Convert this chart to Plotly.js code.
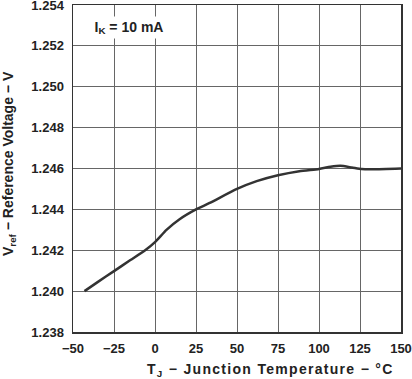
<!DOCTYPE html>
<html>
<head>
<meta charset="utf-8">
<script src="https://cdn.plot.ly/plotly-3.0.1.min.js"></script>
<style>html,body{margin:0;padding:0;background:#fff;}#chart{width:412px;height:379px;}</style>
</head>
<body>
<div id="chart"></div>
<script>
const temperature = [-43, -35, -25, -15, -6, 0, 7, 15, 25, 33, 50, 62, 75, 88, 100, 107, 113, 120, 126, 133, 150];
const vref = [1.2400, 1.24044, 1.24098, 1.24152, 1.2420, 1.2424, 1.2430, 1.24352, 1.2440, 1.2443, 1.2450, 1.24538, 1.24567, 1.24587, 1.24598, 1.24608, 1.24613, 1.24605, 1.24597, 1.24596, 1.2460];
const xTicks = [-50, -25, 0, 25, 50, 75, 100, 125, 150];
const yTicks = [1.238, 1.240, 1.242, 1.244, 1.246, 1.248, 1.250, 1.252, 1.254];
const xTickText = ['\u221250', '\u221225', '0', '25', '50', '75', '100', '125', '150'];
const yTickText = yTicks.map(v => v.toFixed(3));
const noteText = 'I<sub>K</sub> = 10 mA';
const xTitle = 'T<sub>J</sub> \u2212 Junction Temperature \u2212 \u00b0C';
const yTitle = 'V<sub>ref</sub> \u2212 Reference Voltage \u2212 V';

const fam = 'Liberation Sans, Arial, sans-serif';
const tickFont = {family: fam, size: 13, color: '#222', weight: 'bold'};
const titleFont = {family: fam, size: 14, color: '#222', weight: 'bold'};

const W = 412, H = 379, M = {l: 73, r: 11, t: 5, b: 47};
const pw = W - M.l - M.r, ph = H - M.t - M.b;
const px = x => (x - M.l) / pw;
const py = y => 1 - (y - M.t) / ph;

Plotly.newPlot('chart', [{
  x: temperature, y: vref, mode: 'lines', type: 'scatter',
  line: {color: '#333', width: 2.5, shape: 'spline', smoothing: 0.6},
  hoverinfo: 'skip'
}], {
  width: W, height: H,
  margin: M,
  paper_bgcolor: '#fff', plot_bgcolor: '#fff',
  font: tickFont,
  showlegend: false,
  xaxis: {
    range: [-50, 150], tickvals: xTicks, ticktext: xTickText,
    showgrid: true, gridcolor: '#666', gridwidth: 1,
    showline: true, linecolor: '#333', linewidth: 1.5, mirror: true,
    zeroline: false, ticks: '', ticklabelstandoff: 4, ticklabeloverflow: 'allow',
    tickfont: tickFont
  },
  yaxis: {
    range: [1.238, 1.254], tickvals: yTicks, ticktext: yTickText,
    showgrid: true, gridcolor: '#666', gridwidth: 1,
    showline: true, linecolor: '#333', linewidth: 1.5, mirror: true,
    zeroline: false, ticks: '', ticklabelstandoff: 5, ticklabeloverflow: 'allow',
    tickfont: tickFont
  },
  annotations: [{
    x: -15.85, y: 1.25288, xref: 'x', yref: 'y', xanchor: 'center', yanchor: 'middle',
    text: noteText, showarrow: false, bgcolor: '#fff', width: 92, height: 21, borderpad: 0,
    font: titleFont
  }, {
    x: px(270), y: py(370), xref: 'paper', yref: 'paper', xanchor: 'center', yanchor: 'middle',
    text: '<span style="letter-spacing:1.3px">' + xTitle + '</span>', showarrow: false,
    font: titleFont
  }, {
    x: px(9), y: py(164), xref: 'paper', yref: 'paper', xanchor: 'center', yanchor: 'middle',
    text: yTitle, showarrow: false, textangle: -90,
    font: titleFont
  }]
}, {staticPlot: true, displayModeBar: false});
</script>
</body>
</html>
